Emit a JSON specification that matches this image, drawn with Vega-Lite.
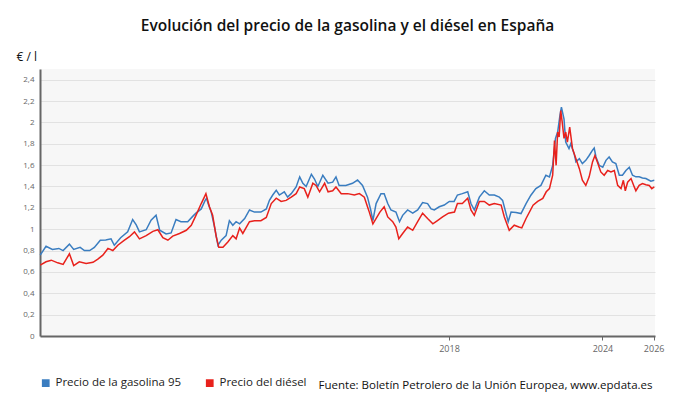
{
  "$schema": "https://vega.github.io/schema/vega-lite/v6.json",
  "width": 615,
  "height": 267,
  "autosize": {"type": "none"},
  "padding": {"left": 40, "top": 69, "right": 35, "bottom": 78},
  "background": "white",
  "title": {
    "text": "Evolución del precio de la gasolina y el diésel en España",
    "font": "Open Sans",
    "fontSize": 15.5,
    "fontWeight": 600,
    "color": "#111",
    "anchor": "middle",
    "offset": 16
  },
  "config": {
    "view": {"fill": "#f7f7f7", "stroke": null},
    "font": "Open Sans"
  },
  "datasets": {
    "gasolina": [
      {"fecha": "2002-01-08", "precio": 0.757}, {"fecha": "2002-04-01", "precio": 0.84}, {"fecha": "2002-07-01", "precio": 0.81},
      {"fecha": "2002-10-01", "precio": 0.82}, {"fecha": "2002-12-01", "precio": 0.80}, {"fecha": "2003-03-01", "precio": 0.86},
      {"fecha": "2003-05-01", "precio": 0.81}, {"fecha": "2003-08-01", "precio": 0.83}, {"fecha": "2003-10-01", "precio": 0.80},
      {"fecha": "2003-12-15", "precio": 0.80}, {"fecha": "2004-02-20", "precio": 0.83}, {"fecha": "2004-05-15", "precio": 0.897},
      {"fecha": "2004-08-01", "precio": 0.90}, {"fecha": "2004-10-15", "precio": 0.91}, {"fecha": "2004-12-01", "precio": 0.85},
      {"fecha": "2005-03-01", "precio": 0.92}, {"fecha": "2005-06-10", "precio": 0.975}, {"fecha": "2005-08-20", "precio": 1.09},
      {"fecha": "2005-10-10", "precio": 1.04}, {"fecha": "2005-11-25", "precio": 0.975}, {"fecha": "2006-03-01", "precio": 0.995},
      {"fecha": "2006-05-10", "precio": 1.084}, {"fecha": "2006-07-20", "precio": 1.13}, {"fecha": "2006-09-10", "precio": 0.99},
      {"fecha": "2006-12-10", "precio": 0.955}, {"fecha": "2007-02-20", "precio": 0.965}, {"fecha": "2007-05-01", "precio": 1.09},
      {"fecha": "2007-07-10", "precio": 1.07}, {"fecha": "2007-10-15", "precio": 1.07}, {"fecha": "2007-12-25", "precio": 1.12},
      {"fecha": "2008-02-10", "precio": 1.15}, {"fecha": "2008-04-25", "precio": 1.19}, {"fecha": "2008-06-20", "precio": 1.27},
      {"fecha": "2008-07-10", "precio": 1.29}, {"fecha": "2008-08-01", "precio": 1.24}, {"fecha": "2008-09-15", "precio": 1.16},
      {"fecha": "2008-11-01", "precio": 1.02}, {"fecha": "2008-12-20", "precio": 0.85}, {"fecha": "2009-02-05", "precio": 0.897},
      {"fecha": "2009-04-15", "precio": 0.94}, {"fecha": "2009-06-01", "precio": 1.08}, {"fecha": "2009-07-20", "precio": 1.037},
      {"fecha": "2009-09-05", "precio": 1.07}, {"fecha": "2009-10-25", "precio": 1.05}, {"fecha": "2010-01-05", "precio": 1.10},
      {"fecha": "2010-03-15", "precio": 1.18}, {"fecha": "2010-05-25", "precio": 1.16}, {"fecha": "2010-08-25", "precio": 1.16},
      {"fecha": "2010-11-10", "precio": 1.19}, {"fecha": "2010-12-25", "precio": 1.27}, {"fecha": "2011-02-10", "precio": 1.32},
      {"fecha": "2011-04-01", "precio": 1.365}, {"fecha": "2011-05-15", "precio": 1.32}, {"fecha": "2011-07-25", "precio": 1.35},
      {"fecha": "2011-09-10", "precio": 1.30}, {"fecha": "2011-11-01", "precio": 1.333}, {"fecha": "2012-01-10", "precio": 1.395},
      {"fecha": "2012-03-01", "precio": 1.49}, {"fecha": "2012-04-15", "precio": 1.43}, {"fecha": "2012-06-01", "precio": 1.40},
      {"fecha": "2012-08-15", "precio": 1.514}, {"fecha": "2012-09-28", "precio": 1.47}, {"fecha": "2012-11-15", "precio": 1.40},
      {"fecha": "2013-01-25", "precio": 1.505}, {"fecha": "2013-04-10", "precio": 1.43}, {"fecha": "2013-06-15", "precio": 1.44},
      {"fecha": "2013-08-01", "precio": 1.49}, {"fecha": "2013-09-15", "precio": 1.41}, {"fecha": "2013-12-20", "precio": 1.41},
      {"fecha": "2014-03-25", "precio": 1.43}, {"fecha": "2014-06-05", "precio": 1.46}, {"fecha": "2014-08-15", "precio": 1.41},
      {"fecha": "2014-10-25", "precio": 1.30}, {"fecha": "2014-12-10", "precio": 1.18}, {"fecha": "2015-01-10", "precio": 1.08},
      {"fecha": "2015-02-25", "precio": 1.24}, {"fecha": "2015-05-05", "precio": 1.333}, {"fecha": "2015-06-20", "precio": 1.333},
      {"fecha": "2015-08-10", "precio": 1.24}, {"fecha": "2015-09-25", "precio": 1.18}, {"fecha": "2015-12-05", "precio": 1.16},
      {"fecha": "2016-01-25", "precio": 1.07}, {"fecha": "2016-03-10", "precio": 1.13}, {"fecha": "2016-05-20", "precio": 1.18},
      {"fecha": "2016-08-01", "precio": 1.15}, {"fecha": "2016-10-10", "precio": 1.18}, {"fecha": "2016-12-20", "precio": 1.25},
      {"fecha": "2017-03-01", "precio": 1.24}, {"fecha": "2017-04-20", "precio": 1.19}, {"fecha": "2017-06-05", "precio": 1.18},
      {"fecha": "2017-08-15", "precio": 1.21}, {"fecha": "2017-10-25", "precio": 1.226}, {"fecha": "2018-01-05", "precio": 1.26},
      {"fecha": "2018-03-15", "precio": 1.26}, {"fecha": "2018-05-01", "precio": 1.32}, {"fecha": "2018-07-10", "precio": 1.333},
      {"fecha": "2018-09-25", "precio": 1.35}, {"fecha": "2018-11-10", "precio": 1.24}, {"fecha": "2018-12-28", "precio": 1.18},
      {"fecha": "2019-03-10", "precio": 1.30}, {"fecha": "2019-05-20", "precio": 1.36}, {"fecha": "2019-07-30", "precio": 1.32},
      {"fecha": "2019-10-10", "precio": 1.32}, {"fecha": "2019-12-20", "precio": 1.30}, {"fecha": "2020-02-05", "precio": 1.27},
      {"fecha": "2020-04-25", "precio": 1.07}, {"fecha": "2020-06-05", "precio": 1.16}, {"fecha": "2020-08-15", "precio": 1.156},
      {"fecha": "2020-10-25", "precio": 1.146}, {"fecha": "2021-01-05", "precio": 1.24}, {"fecha": "2021-03-15", "precio": 1.318},
      {"fecha": "2021-05-25", "precio": 1.38}, {"fecha": "2021-08-05", "precio": 1.41}, {"fecha": "2021-10-15", "precio": 1.505},
      {"fecha": "2021-12-05", "precio": 1.49}, {"fecha": "2022-01-20", "precio": 1.598}, {"fecha": "2022-03-01", "precio": 1.85},
      {"fecha": "2022-04-01", "precio": 1.91}, {"fecha": "2022-05-05", "precio": 2.07}, {"fecha": "2022-05-25", "precio": 2.143},
      {"fecha": "2022-07-01", "precio": 2.03}, {"fecha": "2022-07-25", "precio": 1.816}, {"fecha": "2022-09-10", "precio": 1.754},
      {"fecha": "2022-10-05", "precio": 1.80}, {"fecha": "2022-11-22", "precio": 1.707}, {"fecha": "2022-12-18", "precio": 1.63},
      {"fecha": "2023-02-05", "precio": 1.66}, {"fecha": "2023-03-20", "precio": 1.614}, {"fecha": "2023-05-08", "precio": 1.645},
      {"fecha": "2023-06-25", "precio": 1.69}, {"fecha": "2023-08-12", "precio": 1.74}, {"fecha": "2023-09-05", "precio": 1.76},
      {"fecha": "2023-09-30", "precio": 1.676}, {"fecha": "2023-11-15", "precio": 1.598}, {"fecha": "2024-01-05", "precio": 1.58},
      {"fecha": "2024-02-20", "precio": 1.645}, {"fecha": "2024-04-05", "precio": 1.676}, {"fecha": "2024-05-22", "precio": 1.63},
      {"fecha": "2024-07-10", "precio": 1.614}, {"fecha": "2024-08-28", "precio": 1.505}, {"fecha": "2024-10-12", "precio": 1.505},
      {"fecha": "2024-12-01", "precio": 1.55}, {"fecha": "2025-01-18", "precio": 1.58}, {"fecha": "2025-03-05", "precio": 1.505},
      {"fecha": "2025-04-22", "precio": 1.49}, {"fecha": "2025-06-08", "precio": 1.49}, {"fecha": "2025-07-25", "precio": 1.48},
      {"fecha": "2025-09-12", "precio": 1.474}, {"fecha": "2025-11-22", "precio": 1.45}, {"fecha": "2026-01-10", "precio": 1.458}
    ],
    "diesel": [
      {"fecha": "2002-01-08", "precio": 0.663}, {"fecha": "2002-04-01", "precio": 0.695}, {"fecha": "2002-06-15", "precio": 0.71},
      {"fecha": "2002-09-15", "precio": 0.685}, {"fecha": "2002-12-01", "precio": 0.67}, {"fecha": "2003-03-01", "precio": 0.77},
      {"fecha": "2003-05-01", "precio": 0.66}, {"fecha": "2003-07-20", "precio": 0.695}, {"fecha": "2003-10-25", "precio": 0.68},
      {"fecha": "2004-02-01", "precio": 0.69}, {"fecha": "2004-04-10", "precio": 0.72}, {"fecha": "2004-06-20", "precio": 0.757},
      {"fecha": "2004-09-01", "precio": 0.82}, {"fecha": "2004-11-10", "precio": 0.80}, {"fecha": "2005-01-20", "precio": 0.85},
      {"fecha": "2005-04-25", "precio": 0.897}, {"fecha": "2005-07-05", "precio": 0.93}, {"fecha": "2005-09-15", "precio": 0.975},
      {"fecha": "2005-11-25", "precio": 0.91}, {"fecha": "2006-03-01", "precio": 0.94}, {"fecha": "2006-06-05", "precio": 0.98},
      {"fecha": "2006-08-15", "precio": 0.995}, {"fecha": "2006-10-25", "precio": 0.92}, {"fecha": "2007-01-05", "precio": 0.897},
      {"fecha": "2007-03-15", "precio": 0.935}, {"fecha": "2007-06-20", "precio": 0.96}, {"fecha": "2007-09-25", "precio": 0.99},
      {"fecha": "2007-12-05", "precio": 1.037}, {"fecha": "2008-02-10", "precio": 1.13}, {"fecha": "2008-04-25", "precio": 1.24},
      {"fecha": "2008-06-20", "precio": 1.317}, {"fecha": "2008-07-01", "precio": 1.333}, {"fecha": "2008-08-20", "precio": 1.21},
      {"fecha": "2008-10-05", "precio": 1.13}, {"fecha": "2008-11-25", "precio": 0.93}, {"fecha": "2009-01-01", "precio": 0.83},
      {"fecha": "2009-03-01", "precio": 0.83}, {"fecha": "2009-05-10", "precio": 0.88}, {"fecha": "2009-07-20", "precio": 0.94},
      {"fecha": "2009-09-05", "precio": 0.91}, {"fecha": "2009-10-25", "precio": 1.01}, {"fecha": "2009-12-10", "precio": 0.96},
      {"fecha": "2010-03-15", "precio": 1.07}, {"fecha": "2010-05-25", "precio": 1.08}, {"fecha": "2010-08-25", "precio": 1.08},
      {"fecha": "2010-11-10", "precio": 1.11}, {"fecha": "2011-01-20", "precio": 1.24}, {"fecha": "2011-04-01", "precio": 1.29},
      {"fecha": "2011-06-10", "precio": 1.26}, {"fecha": "2011-08-20", "precio": 1.27}, {"fecha": "2011-11-01", "precio": 1.30},
      {"fecha": "2012-01-10", "precio": 1.333}, {"fecha": "2012-03-01", "precio": 1.395}, {"fecha": "2012-05-05", "precio": 1.38},
      {"fecha": "2012-06-25", "precio": 1.30}, {"fecha": "2012-09-05", "precio": 1.43}, {"fecha": "2012-10-20", "precio": 1.41},
      {"fecha": "2012-12-10", "precio": 1.35}, {"fecha": "2013-02-20", "precio": 1.43}, {"fecha": "2013-04-10", "precio": 1.35},
      {"fecha": "2013-06-15", "precio": 1.36}, {"fecha": "2013-08-01", "precio": 1.395}, {"fecha": "2013-10-15", "precio": 1.333},
      {"fecha": "2014-01-15", "precio": 1.333}, {"fecha": "2014-04-20", "precio": 1.32}, {"fecha": "2014-07-01", "precio": 1.333},
      {"fecha": "2014-09-10", "precio": 1.30}, {"fecha": "2014-10-25", "precio": 1.21}, {"fecha": "2014-11-20", "precio": 1.16},
      {"fecha": "2015-01-10", "precio": 1.05}, {"fecha": "2015-04-20", "precio": 1.16}, {"fecha": "2015-06-20", "precio": 1.21},
      {"fecha": "2015-08-10", "precio": 1.115}, {"fecha": "2015-10-20", "precio": 1.07}, {"fecha": "2015-12-05", "precio": 1.02},
      {"fecha": "2016-01-15", "precio": 0.91}, {"fecha": "2016-03-10", "precio": 0.96}, {"fecha": "2016-05-20", "precio": 1.02},
      {"fecha": "2016-08-01", "precio": 0.99}, {"fecha": "2016-10-10", "precio": 1.07}, {"fecha": "2016-12-20", "precio": 1.15},
      {"fecha": "2017-03-01", "precio": 1.10}, {"fecha": "2017-05-15", "precio": 1.05}, {"fecha": "2017-07-20", "precio": 1.08},
      {"fecha": "2017-10-01", "precio": 1.115}, {"fecha": "2017-12-25", "precio": 1.15}, {"fecha": "2018-03-20", "precio": 1.16},
      {"fecha": "2018-05-01", "precio": 1.24}, {"fecha": "2018-07-10", "precio": 1.24}, {"fecha": "2018-09-25", "precio": 1.29},
      {"fecha": "2018-11-10", "precio": 1.18}, {"fecha": "2018-12-28", "precio": 1.13}, {"fecha": "2019-03-10", "precio": 1.26},
      {"fecha": "2019-05-20", "precio": 1.26}, {"fecha": "2019-07-30", "precio": 1.226}, {"fecha": "2019-10-10", "precio": 1.24},
      {"fecha": "2020-01-15", "precio": 1.226}, {"fecha": "2020-03-01", "precio": 1.115}, {"fecha": "2020-05-10", "precio": 0.99},
      {"fecha": "2020-07-20", "precio": 1.037}, {"fecha": "2020-09-25", "precio": 1.02}, {"fecha": "2020-11-05", "precio": 1.012},
      {"fecha": "2021-01-05", "precio": 1.10}, {"fecha": "2021-04-15", "precio": 1.225}, {"fecha": "2021-06-20", "precio": 1.26},
      {"fecha": "2021-09-01", "precio": 1.288}, {"fecha": "2021-10-20", "precio": 1.35}, {"fecha": "2021-12-05", "precio": 1.38},
      {"fecha": "2022-01-20", "precio": 1.505}, {"fecha": "2022-02-15", "precio": 1.83}, {"fecha": "2022-03-10", "precio": 1.598},
      {"fecha": "2022-04-01", "precio": 1.91}, {"fecha": "2022-04-22", "precio": 1.864}, {"fecha": "2022-05-15", "precio": 2.11},
      {"fecha": "2022-06-05", "precio": 2.003}, {"fecha": "2022-07-01", "precio": 1.85}, {"fecha": "2022-07-25", "precio": 1.91},
      {"fecha": "2022-08-18", "precio": 1.816}, {"fecha": "2022-09-20", "precio": 1.956}, {"fecha": "2022-10-30", "precio": 1.754},
      {"fecha": "2022-12-18", "precio": 1.66}, {"fecha": "2023-02-05", "precio": 1.567}, {"fecha": "2023-03-20", "precio": 1.458},
      {"fecha": "2023-05-08", "precio": 1.41}, {"fecha": "2023-06-25", "precio": 1.49}, {"fecha": "2023-08-12", "precio": 1.63},
      {"fecha": "2023-09-15", "precio": 1.69}, {"fecha": "2023-10-20", "precio": 1.63}, {"fecha": "2023-12-08", "precio": 1.536},
      {"fecha": "2024-01-25", "precio": 1.505}, {"fecha": "2024-03-15", "precio": 1.55}, {"fecha": "2024-05-01", "precio": 1.536},
      {"fecha": "2024-06-18", "precio": 1.55}, {"fecha": "2024-08-05", "precio": 1.41}, {"fecha": "2024-09-22", "precio": 1.38},
      {"fecha": "2024-10-25", "precio": 1.458}, {"fecha": "2024-11-22", "precio": 1.36}, {"fecha": "2024-12-25", "precio": 1.44},
      {"fecha": "2025-02-12", "precio": 1.474}, {"fecha": "2025-03-30", "precio": 1.396}, {"fecha": "2025-04-22", "precio": 1.36},
      {"fecha": "2025-06-08", "precio": 1.41}, {"fecha": "2025-07-25", "precio": 1.427}, {"fecha": "2025-09-12", "precio": 1.417},
      {"fecha": "2025-10-30", "precio": 1.41}, {"fecha": "2025-12-05", "precio": 1.38}, {"fecha": "2026-01-10", "precio": 1.396}
    ]
  },
  "encoding": {
    "x": {
      "field": "fecha",
      "type": "temporal",
      "scale": {"domain": ["2002-01-05", "2026-01-20"], "nice": false},
      "axis": {
        "values": ["2018-01-01", "2024-01-01", "2026-01-01"],
        "format": "%Y",
        "grid": false,
        "domainColor": "#666",
        "domainWidth": 2,
        "tickColor": "#666",
        "tickSize": 4,
        "labelColor": "#666",
        "labelFontSize": 9,
        "labelPadding": 4,
        "title": "Fuente: Boletín Petrolero de la Unión Europea, www.epdata.es",
        "titleFontSize": 11.5,
        "titleFontWeight": "normal",
        "titleColor": "#111",
        "titleAlign": "right",
        "titleAnchor": "end",
        "titleBaseline": "middle",
        "titleX": 612,
        "titleY": 49
      }
    },
    "y": {
      "field": "precio",
      "type": "quantitative",
      "scale": {"domain": [0, 2.5], "nice": false},
      "axis": {
        "values": [0, 0.2, 0.4, 0.6, 0.8, 1, 1.2, 1.4, 1.6, 1.8, 2, 2.2, 2.4],
        "labelExpr": "replace(format(datum.value, ''), '.', ',')",
        "ticks": false,
        "labelPadding": 6,
        "labelColor": "#666",
        "labelFontSize": 8,
        "gridColor": "#e2e2e2",
        "domainColor": "#666",
        "domainWidth": 2,
        "title": "€ / l",
        "titleAngle": 0,
        "titleAlign": "left",
        "titleBaseline": "middle",
        "titleFontSize": 12,
        "titleFontWeight": "normal",
        "titleColor": "#111",
        "titleX": -24,
        "titleY": -13
      }
    }
  },
  "layer": [
    {
      "data": {"name": "gasolina"},
      "mark": {"type": "line", "strokeWidth": 1.5},
      "encoding": {
        "color": {
          "datum": "Precio de la gasolina 95",
          "type": "nominal",
          "scale": {
            "domain": ["Precio de la gasolina 95", "Precio del diésel"],
            "range": ["#3a7dc0", "#e8211c"]
          },
          "legend": {
            "title": null,
            "orient": "none",
            "legendX": 0,
            "legendY": 308,
            "direction": "horizontal",
            "symbolType": "square",
            "symbolSize": 60,
            "symbolStrokeWidth": 0,
            "labelFontSize": 11.5,
            "labelColor": "#222",
            "labelOffset": 4,
            "columnPadding": 22,
            "encode": {
              "symbols": {"update": {"fill": {"scale": "color", "field": "value"}}}
            }
          }
        }
      }
    },
    {
      "data": {"name": "diesel"},
      "mark": {"type": "line", "strokeWidth": 1.5},
      "encoding": {
        "color": {"datum": "Precio del diésel", "type": "nominal"}
      }
    }
  ]
}
